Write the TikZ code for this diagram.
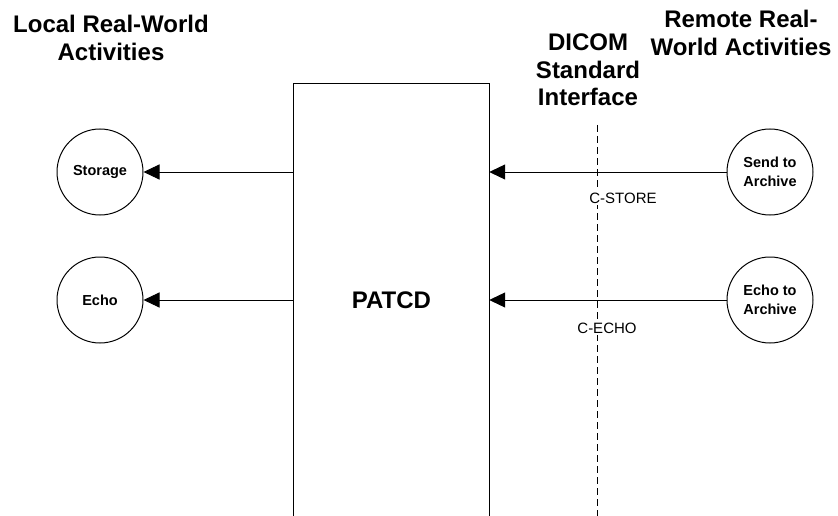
\documentclass[tikz,border=0pt]{standalone}
\usepackage{fontspec}
\setmainfont{Liberation Sans}
\usetikzlibrary{arrows.meta}

\begin{document}
\begin{tikzpicture}[x=1pt,y=-1pt,
        heading/.style={align=center,font=\fontsize{24}{27.5}\selectfont\bfseries},
        activity/.style={circle,draw=black,line width=1pt,minimum size=86pt,inner sep=0pt,align=center,font=\fontsize{14.5}{18.5}\selectfont\bfseries},
        flow/.style={line width=1pt,-{Triangle[length=16pt,width=15pt]}},
        cmd/.style={fill=white,inner sep=2pt,font=\fontsize{15}{18}\selectfont}]
            \useasboundingbox (0,0) rectangle (838,516);

            % Place the headings
            \node[heading] (local) at (111,38) {Local Real-World\\Activities};
            \node[heading] (dicom) at (588,70) {DICOM\\Standard\\Interface};
            \node[heading] (remote) at (741,33) {Remote Real-\\World Activities};

            % Place the application box
            \node[minimum width=195pt,minimum height=432pt,inner sep=0pt,font=\fontsize{24}{28}\selectfont\bfseries] (patcd) at (391.5,300) {PATCD};
            \draw[line width=1pt] (patcd.south west) -- (patcd.north west) -- (patcd.north east) -- (patcd.south east);

            % Place the activities
            \node[activity] (storage) at (100,172) {Storage};
            \node[activity] (echo) at (100,300) {Echo};
            \node[activity] (send) at (770,172) {Send to\\Archive};
            \node[activity] (echoarch) at (770,300) {Echo to\\Archive};

            % The interface line
            \coordinate (itop) at (597,125);
            \coordinate (ibot) at (597,516);
            \draw[line width=0.8pt,dash pattern=on 7pt off 4pt] (itop) -- (ibot);

            % The arrows!
            \draw[flow] (storage -| patcd.west) -- (storage);
            \draw[flow] (echo -| patcd.west) -- (echo);
            \draw[flow] (send) -- (send -| patcd.east);
            \draw[flow] (echoarch) -- (echoarch -| patcd.east);

            % Command labels
            \node[cmd] (cstore) at (623,198) {C-STORE};
            \node[cmd] (cecho) at (607,328) {C-ECHO};
        \end{tikzpicture}
\end{document}
